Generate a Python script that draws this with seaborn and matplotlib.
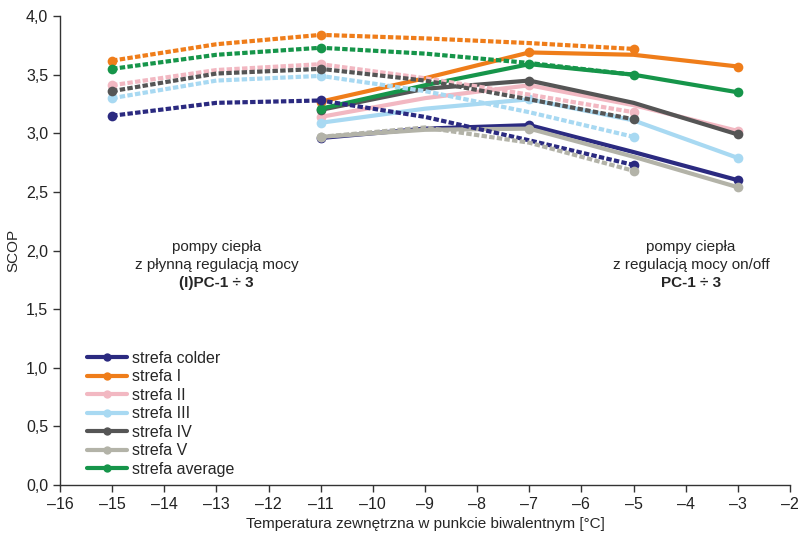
import matplotlib
matplotlib.use('Agg')
import matplotlib.pyplot as plt
import seaborn as sns
import pandas as pd
from matplotlib.lines import Line2D
from matplotlib.ticker import FuncFormatter

sns.set_style('white')
plt.rcParams['font.family'] = ['Liberation Sans', 'DejaVu Sans']

# pompy z płynną regulacją mocy (linie kropkowane)
x_plynna = [-15, -13, -11, -9, -7, -5]
plynna_colder = [3.15, 3.26, 3.28, 3.14, 2.94, 2.73]
plynna_I = [3.62, 3.76, 3.84, 3.81, 3.77, 3.72]
plynna_II = [3.41, 3.54, 3.59, 3.47, 3.33, 3.18]
plynna_III = [3.30, 3.45, 3.49, 3.36, 3.18, 2.97]
plynna_IV = [3.36, 3.51, 3.55, 3.45, 3.29, 3.12]
plynna_average = [3.55, 3.67, 3.73, 3.68, 3.60, 3.50]
x_plynna_V = [-11, -9, -7, -5]
plynna_V = [2.97, 3.05, 2.92, 2.68]

# pompy on/off (linie ciągłe)
x_onoff = [-11, -9, -7, -5, -3]
onoff_colder = [2.96, 3.04, 3.07, 2.84, 2.60]
onoff_I = [3.27, 3.47, 3.69, 3.67, 3.57]
onoff_II = [3.14, 3.30, 3.41, 3.24, 3.02]
onoff_III = [3.09, 3.21, 3.29, 3.11, 2.79]
onoff_IV = [3.20, 3.38, 3.45, 3.26, 2.99]
onoff_V = [2.97, 3.03, 3.04, 2.80, 2.54]
onoff_average = [3.21, 3.41, 3.59, 3.50, 3.35]

strefy = ['strefa colder', 'strefa I', 'strefa II', 'strefa III', 'strefa IV', 'strefa V', 'strefa average']
kolory = ['#2b2a80', '#ef7d1a', '#f2b8c2', '#a8d9f2', '#555555', '#b3b3a8', '#16954a']

plynna = {
    'strefa colder': (x_plynna, plynna_colder),
    'strefa I': (x_plynna, plynna_I),
    'strefa II': (x_plynna, plynna_II),
    'strefa III': (x_plynna, plynna_III),
    'strefa IV': (x_plynna, plynna_IV),
    'strefa V': (x_plynna_V, plynna_V),
    'strefa average': (x_plynna, plynna_average),
}
onoff = {
    'strefa colder': onoff_colder,
    'strefa I': onoff_I,
    'strefa II': onoff_II,
    'strefa III': onoff_III,
    'strefa IV': onoff_IV,
    'strefa V': onoff_V,
    'strefa average': onoff_average,
}

fig = plt.figure(figsize=(8, 5.37), dpi=100)
ax = fig.add_axes([0.075, 0.097, 0.9125, 0.873])

# linie ciągłe (on/off)
for s, c in zip(strefy, kolory):
    df = pd.DataFrame({'x': x_onoff, 'y': onoff[s]})
    sns.lineplot(data=df, x='x', y='y', ax=ax, color=c, lw=3, marker='o',
                 markersize=7, markeredgewidth=0, markevery=[0, 2, 4])

# linie kropkowane (płynna regulacja)
for s, c in zip(strefy, kolory):
    xs, ys = plynna[s]
    df = pd.DataFrame({'x': xs, 'y': ys})
    ev = [0, len(xs) - 1] if s == 'strefa V' else [0, 2, 5]
    sns.lineplot(data=df, x='x', y='y', ax=ax, color=c, lw=3,
                 linestyle=(0, (1.3, 0.55)), marker='o', markersize=7,
                 markeredgewidth=0, markevery=ev)

ax.set_xlim(-16, -2)
ax.set_ylim(0, 4.0)
ax.set_xticks(range(-16, -1))
ax.set_yticks([0, 0.5, 1.0, 1.5, 2.0, 2.5, 3.0, 3.5, 4.0])
ax.yaxis.set_major_formatter(FuncFormatter(lambda v, p: f'{v:.1f}'.replace('.', ',')))
ax.xaxis.set_major_formatter(FuncFormatter(lambda v, p: f'{int(v)}'.replace('-', '–')))
ax.tick_params(axis='both', direction='out', length=5, width=1, color='#333333',
               labelsize=11.5, bottom=True, left=True, labelcolor='#222222')
for sp in ['top', 'right']:
    ax.spines[sp].set_visible(False)
for sp in ['left', 'bottom']:
    ax.spines[sp].set_color('#333333')
    ax.spines[sp].set_linewidth(1)

ax.set_xlabel('Temperatura zewnętrzna w punkcie biwalentnym [°C]', fontsize=11, labelpad=4)
ax.set_ylabel('SCOP', fontsize=11, labelpad=4)

ax.text(-13.0, 2.03, 'pompy ciepła', ha='center', va='center', fontsize=11)
ax.text(-13.0, 1.88, 'z płynną regulacją mocy', ha='center', va='center', fontsize=11)
ax.text(-13.0, 1.72, '(I)PC-1 ÷ 3', ha='center', va='center', fontsize=11, fontweight='bold')
ax.text(-3.9, 2.03, 'pompy ciepła', ha='center', va='center', fontsize=11)
ax.text(-3.9, 1.88, 'z regulacją mocy on/off', ha='center', va='center', fontsize=11)
ax.text(-3.9, 1.72, 'PC-1 ÷ 3', ha='center', va='center', fontsize=11, fontweight='bold')

handles = [Line2D([0], [0], color=c, lw=3, marker='o', markersize=6, markeredgewidth=0)
           for c in kolory]
ax.legend(handles, strefy, loc='upper left', bbox_to_anchor=(0.028, 0.3), frameon=False,
          fontsize=11.5, handlelength=2.5, handletextpad=0.3, labelspacing=0.22,
          borderaxespad=0)

fig.savefig('out.png', dpi=100)
